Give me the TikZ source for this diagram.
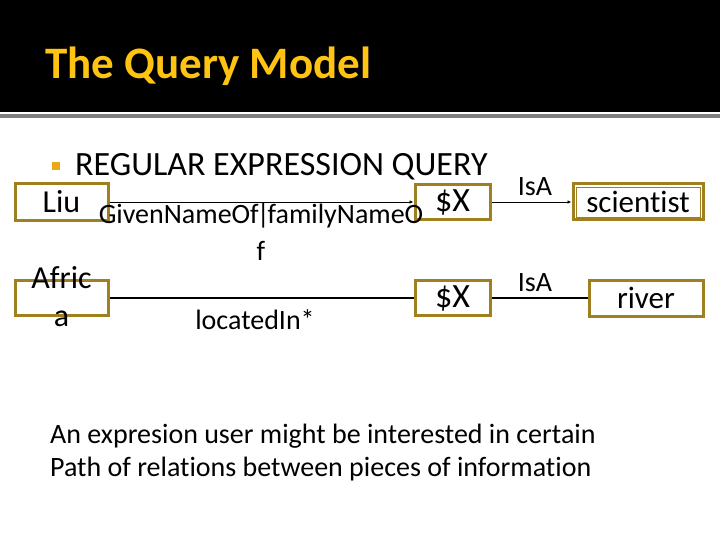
\documentclass[tikz,border=0pt]{standalone}
\usepackage{fontspec}
\setmainfont[Ligatures={NoCommon}]{Carlito}
\usetikzlibrary{arrows.meta}
\definecolor{boxgold}{HTML}{A0801E}
\definecolor{titlegold}{HTML}{FFC312}
\definecolor{bulletgold}{HTML}{E8AA14}
\definecolor{rulegray}{HTML}{7F7F7F}
\tikzset{
  qbox/.style={draw=boxgold, line width=3pt, fill=white, inner sep=0pt, font=\fontsize{31}{36}\selectfont},
  thinlink/.style={line width=0.9pt, -{Latex[length=4pt,width=3.5pt]}},
  thicklink/.style={line width=1.8pt},
  lbl/.style={font=\fontsize{28}{32}\selectfont, inner sep=0pt},
}
\begin{document}
\begin{tikzpicture}[x=1pt,y=-1pt]
\useasboundingbox (0,0) rectangle (720,540);
\fill[black] (0,0) rectangle (720,112);
\fill[rulegray] (0,114) rectangle (720,118);
\node[anchor=base west, text=titlegold, inner sep=0pt, font=\bfseries\fontsize{45}{52}\selectfont] (title) at (45,79) {The Query Model};

\node[fill=bulletgold, minimum size=8pt, inner sep=0pt] (bullet) at (56,166) {};
\node[anchor=base west, inner sep=0pt, font=\fontsize{34}{38}\selectfont] (head) at (75,176) {REGULAR EXPRESSION QUERY};

% top row
\node[qbox, font=\fontsize{32}{36}\selectfont, minimum width=93pt, minimum height=37pt] (liu) at (61.5,202) {Liu};
\node[qbox, font=\fontsize{34}{36}\selectfont, minimum width=75pt, minimum height=35pt] (x1) at (452.5,202) {\$X};
\node[qbox, minimum width=130pt, minimum height=36pt] (sci) at (638,202) {scientist};
\draw[boxgold, line width=0.8pt] ([shift={(4.5,4.5)}]sci.north west) rectangle ([shift={(-4.5,-4.5)}]sci.south east);

% bottom row
\node[qbox, minimum width=93pt, minimum height=35pt] (afr) at (61.5,298) {};
\node[align=center, inner sep=0pt, font=\fontsize{32}{38}\selectfont] (afrtext) at (61.5,297) {Afric\\a};
\node[qbox, font=\fontsize{34}{36}\selectfont, minimum width=75pt, minimum height=35pt] (x2) at (452.5,298) {\$X};
\node[qbox, minimum width=114pt, minimum height=36pt] (riv) at (646,298) {river};

% connectors
\draw[thinlink] (liu) -- (x1);
\draw[thinlink] (x1) -- (sci);
\draw[thicklink] (afr) -- (x2);
\draw[thicklink] (x2) -- (riv);

% labels
\node[lbl, align=center, font=\fontsize{28}{37}\selectfont, anchor=north] (lgiven) at (261,203) {GivenNameOf\kern-2pt|\kern-2pt familyNameO\\f};
\node[lbl] (lisa1) at (535,187) {IsA};
\node[lbl] (lisa2) at (535,283) {IsA};
\node[lbl] (lloc) at (255,320) {locatedIn*};

% bottom text
\node[anchor=base west, inner sep=0pt, font=\fontsize{28}{32}\selectfont] (bt1) at (50,443) {An expresion user might be interested in certain};
\node[anchor=base west, inner sep=0pt, font=\fontsize{28}{32}\selectfont] (bt2) at (50,476) {Path of relations between pieces of information};
\end{tikzpicture}
\end{document}
